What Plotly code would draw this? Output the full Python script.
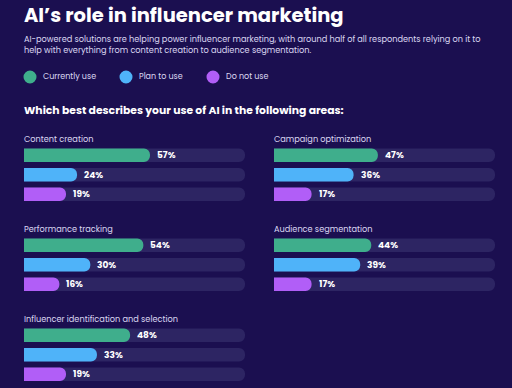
import plotly.graph_objects as go

W, H = 512, 388

categories = ["Content creation", "Campaign optimization", "Performance tracking",
              "Audience segmentation", "Influencer identification and selection"]
series_names = ["Currently use", "Plan to use", "Do not use"]
currently_use = [57, 47, 54, 44, 48]
plan_to_use = [24, 36, 30, 39, 33]
do_not_use = [19, 17, 16, 17, 19]

BG = "#1b0f50"
TRACK = "#2d2563"
COLORS = ["#3fae8c", "#4fb3f9", "#b15ef7"]
TEXT = "#ffffff"
SUB = "#dcd8f2"
FONT = "Poppins, 'Open Sans', sans-serif"

# panel pixel layout (left, right, top, bottom)
panels = [
    (24, 245, 145.5, 204),
    (274, 495, 145.5, 204),
    (24, 245, 235.5, 294),
    (274, 495, 235.5, 294),
    (24, 245, 325.5, 384),
]

fig = go.Figure()
values = [currently_use, plan_to_use, do_not_use]
annotations = []
n = len(categories)
rows = [2, 1, 0]  # first series on top
for i, cat in enumerate(categories):
    ta = "" if i == 0 else str(i + 1)          # track axes
    va = str(i + 1 + n)                          # value axes (same domain, drawn on top)
    fig.add_trace(go.Bar(x=[100, 100, 100], y=rows, orientation="h",
                         marker=dict(color=TRACK, line=dict(width=0), cornerradius="50%"),
                         xaxis="x" + ta, yaxis="y" + ta, showlegend=False,
                         hoverinfo="skip"))
    vals = [values[s][i] for s in range(3)]
    fig.add_trace(go.Bar(x=vals, y=rows, orientation="h", name=cat,
                         customdata=series_names,
                         hovertemplate="%{customdata}: %{x}%<extra>" + cat + "</extra>",
                         marker=dict(color=COLORS, line=dict(width=0), cornerradius="50%"),
                         xaxis="x" + va, yaxis="y" + va, showlegend=False))
    for s, v in enumerate(vals):
        annotations.append(dict(x=v, y=rows[s], xref="x" + va, yref="y" + va, text=f"<b>{v}%</b>",
                                showarrow=False, xanchor="left", xshift=5,
                                font=dict(color=TEXT, size=9, family=FONT)))
    l, r, t, b = panels[i]
    xdom, ydom = [l / W, r / W], [1 - b / H, 1 - t / H]
    fig.layout["xaxis" + ta] = dict(domain=xdom, range=[0, 100], visible=False, fixedrange=True,
                                    anchor="y" + ta)
    fig.layout["yaxis" + ta] = dict(domain=ydom, range=[-0.5, 2.5], visible=False, fixedrange=True,
                                    anchor="x" + ta)
    fig.layout["xaxis" + va] = dict(domain=xdom, range=[0, 100], visible=False, fixedrange=True,
                                    anchor="y" + va)
    fig.layout["yaxis" + va] = dict(domain=ydom, range=[-0.5, 2.5], visible=False, fixedrange=True,
                                    anchor="x" + va)
    annotations.append(dict(x=l / W, y=1 - (t - 6.5) / H, xref="paper", yref="paper",
                            text=cat, showarrow=False, xanchor="left", yanchor="middle", xshift=-2,
                            font=dict(color=SUB, size=8.2, family=FONT)))

# header texts
annotations += [
    dict(x=24 / W, y=1 - 16 / H, xref="paper", yref="paper", xshift=-2,
         text="<b>AI’s role in influencer marketing</b>", showarrow=False,
         xanchor="left", yanchor="middle", font=dict(color=TEXT, size=19.5, family=FONT)),
    dict(x=24 / W, y=1 - 44 / H, xref="paper", yref="paper", xshift=-2,
         text="AI-powered solutions are helping power influencer marketing, with around half of all respondents relying on it to<br>help with everything from content creation to audience segmentation.",
         showarrow=False, xanchor="left", yanchor="middle", align="left",
         font=dict(color=SUB, size=8.2, family=FONT)),
    dict(x=24 / W, y=1 - 110 / H, xref="paper", yref="paper", xshift=-2,
         text="<b>Which best describes your use of AI in the following areas:</b>",
         showarrow=False, xanchor="left", yanchor="middle",
         font=dict(color=TEXT, size=10.8, family=FONT)),
]

# legend (circles + labels)
shapes = []
legend_x = [30, 126, 213]
for s, name in enumerate(series_names):
    cx, cy, rad = legend_x[s], 77, 6.5
    shapes.append(dict(type="circle", xref="paper", yref="paper",
                       x0=(cx - rad) / W, x1=(cx + rad) / W,
                       y0=1 - (cy + rad) / H, y1=1 - (cy - rad) / H,
                       fillcolor=COLORS[s], line=dict(width=0)))
    annotations.append(dict(x=(cx + 13) / W, y=1 - cy / H, xref="paper", yref="paper",
                            text=name, showarrow=False, xanchor="left", yanchor="middle", xshift=-2,
                            font=dict(color=SUB, size=8, family=FONT)))

fig.update_layout(
    width=W, height=H, margin=dict(l=0, r=0, t=0, b=0),
    paper_bgcolor=BG, plot_bgcolor="rgba(0,0,0,0)",
    barmode="group", barcornerradius="50%", bargap=0.3,
    annotations=annotations, shapes=shapes, showlegend=False,
    font=dict(family=FONT, color=TEXT),
)
fig.write_html("out.html", config={"displayModeBar": False},
               post_script="document.body.style.margin='0';document.body.style.background='" + BG + "';")
